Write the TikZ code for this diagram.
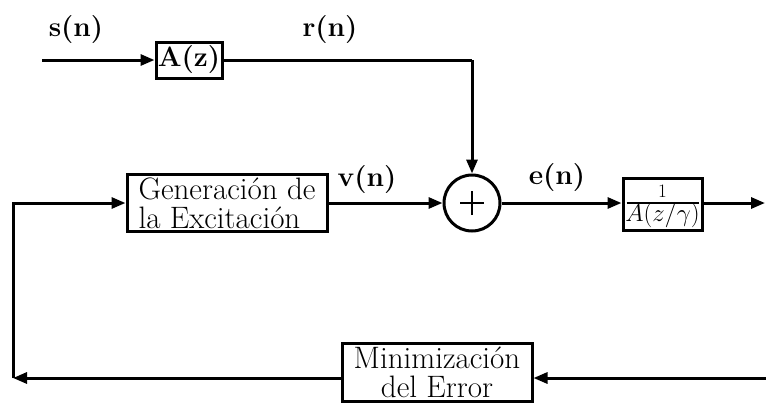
\documentclass[tikz,border=0pt]{standalone}
\usetikzlibrary{arrows.meta}
\begin{document}
\begin{tikzpicture}[x=1pt,y=-1pt,
  wire/.style={line width=3pt},
  arr/.style={wire,-{Triangle[length=14pt,width=11pt]}},
  blk/.style={draw,line width=3pt,inner sep=0pt},
  lbl/.style={font=\fontsize{28}{28}\selectfont\bfseries,inner sep=0pt},
  boxtxt/.style={font=\fontsize{31}{29}\selectfont,align=left}]
\useasboundingbox (0,0) rectangle (766,402);
% labels
\node[lbl] (sn) at (76,30) {s(n)};
\node[lbl] (rn) at (330,30) {r(n)};
\node[lbl] (vn) at (367,180) {v(n)};
\node[lbl] (en) at (557,178) {e(n)};
% blocks
\node[blk,minimum width=66,minimum height=36,font=\fontsize{28}{28}\selectfont\bfseries] (az) at (189,60) {A(z)};
\node[blk,boxtxt,minimum width=200,minimum height=57] (gen) at (227,203) {Generación de\\la Excitación};
\node[draw,circle,line width=3pt,minimum size=56,inner sep=0pt] (sum) at (472,203) {};
\node[blk,minimum width=79,minimum height=52] (filt) at (662.5,204) {};
\node[inner sep=0pt,anchor=south,font=\fontsize{19}{19}\selectfont] (num) at (662.5,198) {1};
\node[inner sep=0pt,anchor=north,font=\fontsize{23}{23}\selectfont] (den) at (662.5,203) {$A(z/\gamma)$};
\node[blk,boxtxt,align=center,minimum width=190,minimum height=58] (min) at (437,372) {Minimización\\del Error};
% coordinates
\coordinate (in) at (42,60);
\coordinate (c1) at (472,60);
\coordinate (out) at (765,203);
\coordinate (br) at (766,378);
\coordinate (bl) at (13,378);
% plus sign
\draw[line width=2pt] ([xshift=-12pt]sum.center) -- ([xshift=12pt]sum.center);
\draw[line width=2pt] ([yshift=-12pt]sum.center) -- ([yshift=12pt]sum.center);
% fraction bar
\draw[line width=1.6pt] ([xshift=-36pt]den.north) -- ([xshift=36pt]den.north);
% connectors
\draw[arr] (in) -- (az.west);
\draw[wire] (az.east) -- (c1);
\draw[arr] (c1) -- (sum.north);
\draw[arr] (gen.east) -- (sum.west);
\draw[arr] (sum.east) -- (filt.west |- sum.east);
\draw[arr] (filt.east |- out) -- (out);
\draw[arr] (br) -- (br -| min.east);
\draw[arr] (bl -| min.west) -- (bl);
\draw[arr] (bl) |- (gen.west);
\end{tikzpicture}
\end{document}
